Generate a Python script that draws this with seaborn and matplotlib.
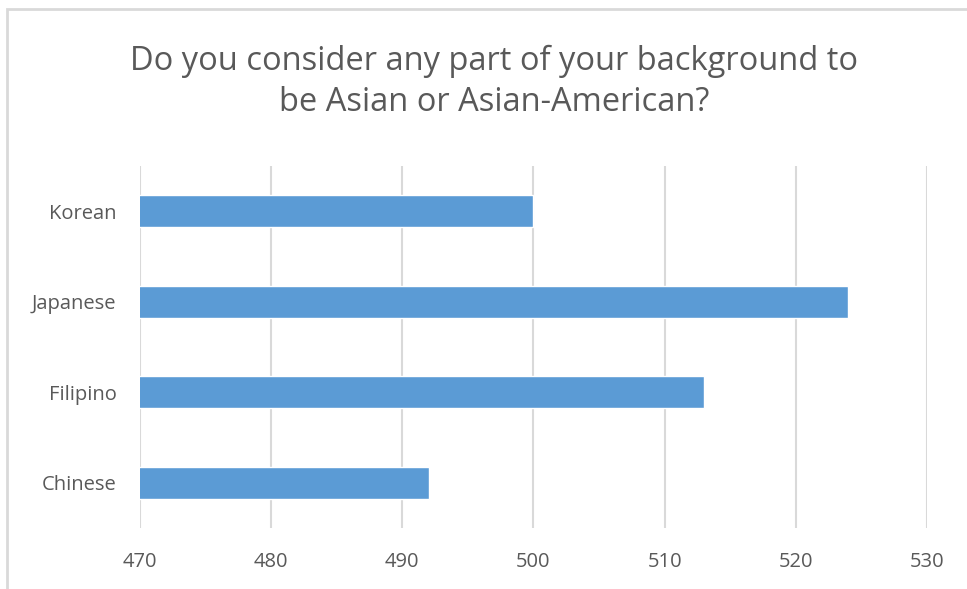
import matplotlib
matplotlib.use("Agg")
import matplotlib.pyplot as plt
import pandas as pd
import seaborn as sns
from matplotlib.patches import Rectangle

# data
categories = ["Korean", "Japanese", "Filipino", "Chinese"]
values = [500, 524, 513, 492]
x_ticks = [470, 480, 490, 500, 510, 520, 530]

TITLE = "Do you consider any part of your background to\nbe Asian or Asian-American?"
BAR_COLOR = "#5B9BD5"
TEXT_COLOR = "#595959"
GRID_COLOR = "#D9D9D9"

sns.set_theme(style="white")
plt.rcParams["font.family"] = ["Open Sans", "DejaVu Sans"]

df = pd.DataFrame({"group": categories, "count": values})

fig = plt.figure(figsize=(9.67, 5.89), dpi=100)
ax = fig.add_axes([0.1448, 0.1036, 0.8138, 0.6146])

sns.barplot(data=df, x="count", y="group", order=categories,
            color=BAR_COLOR, width=0.35, saturation=1, ax=ax)

ax.set_xlim(470, 530)
ax.set_xticks(x_ticks)
ax.set_ylim(3.5, -0.5)
ax.grid(axis="x", color=GRID_COLOR, linewidth=1.5)
ax.set_axisbelow(True)
for s in ax.spines.values():
    s.set_visible(False)
ax.tick_params(axis="both", length=0, labelsize=14.5, colors=TEXT_COLOR)
ax.tick_params(axis="y", pad=17)
ax.tick_params(axis="x", pad=17)
ax.set_xlabel("")
ax.set_ylabel("")

fig.text(0.511, 0.861, TITLE, ha="center", va="center", fontsize=23.5,
         color=TEXT_COLOR, linespacing=1.35)

# chart border (cropped on the right and bottom in the reference)
fig.patches.append(Rectangle((7 / 967, -0.05), 1.2, 1 - 9 / 589 + 0.05,
                             transform=fig.transFigure, fill=False,
                             edgecolor="#D9D9D9", linewidth=2))

fig.savefig("out.png", dpi=100)
